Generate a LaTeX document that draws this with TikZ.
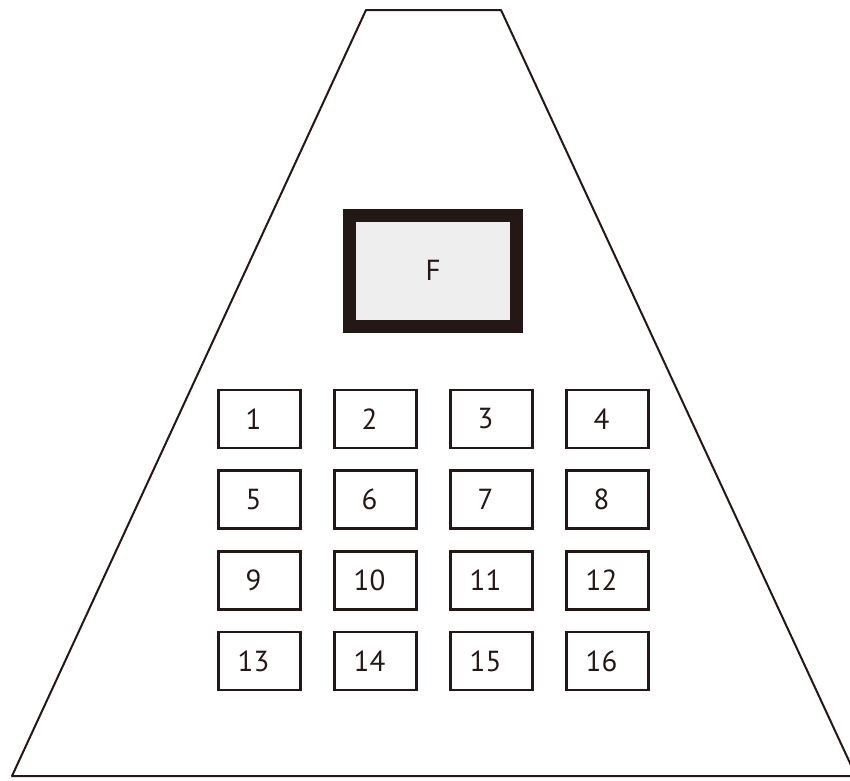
\documentclass[tikz,border=0pt]{standalone}
\usepackage{fontspec}
\setmainfont{PT Sans}
\definecolor{ink}{HTML}{231815}
\definecolor{panel}{HTML}{EEEEEE}
\begin{document}
\begin{tikzpicture}[x=1pt,y=-1pt,
  cell/.style={draw=ink,line width=2.6pt,minimum width=82pt,minimum height=58pt,inner sep=0pt},
  celltext/.style={font=\fontsize{29}{29}\selectfont,text=ink},
  screen/.style={draw=ink,fill=panel,line width=13pt,minimum width=167.5pt,minimum height=111pt,inner sep=0pt,font=\fontsize{29}{29}\selectfont,text=ink}]
\useasboundingbox (0,0) rectangle (850,780);
\clip (0,0) rectangle (850,780);
\draw[ink,line width=2pt,line join=round] (366,10) -- (501,10) -- (856,776) -- (12,776) -- cycle;
\node[screen] (F) at (433,270.5) {F};
\foreach \r in {0,1,2,3}{
  \foreach \c in {0,1,2,3}{
    \pgfmathtruncatemacro{\n}{\r*4+\c+1}
    \node[cell] (b\n) at ({259.5+116*\c},{419+80.7*\r}) {};
    \node[celltext] (t\n) at ({253.5+116*\c},{419+80.7*\r}) {\n};
  }
}
\end{tikzpicture}
\end{document}
